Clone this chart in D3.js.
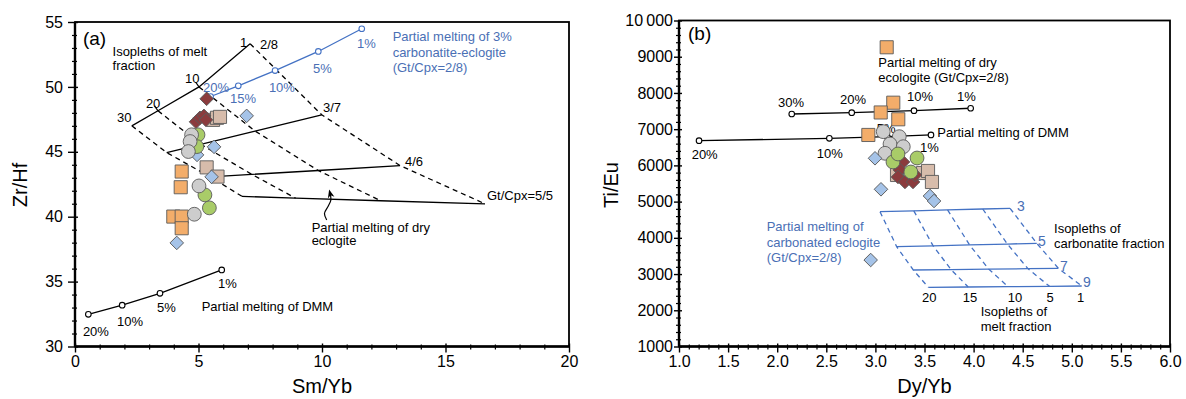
<!DOCTYPE html>
<html>
<head>
<meta charset="utf-8">
<script src="https://cdn.jsdelivr.net/npm/d3@7"></script>
<style>
  body { margin: 0; background: #fff; }
  svg text { font-family: "Liberation Sans", Arial, sans-serif; }
</style>
</head>
<body>
<svg id="chart" width="1186" height="399"></svg>
<script>
// ---------- panel (a): Zr/Hf vs Sm/Yb ----------
const aTicksX = [0, 5, 10, 15, 20];
const aTicksY = [30, 35, 40, 45, 50, 55];

const aOrangeX = [4.32, 4.28, 3.98, 4.32, 4.32];
const aOrangeY = [43.48, 42.27, 40.01, 40.01, 39.11];
const aTanX = [5.59, 5.75, 5.87, 5.33, 5.77];
const aTanY = [47.46, 47.62, 47.69, 43.80, 43.09];
const aBlueX = [6.95, 5.63, 4.94, 5.53, 4.12];
const aBlueY = [47.77, 45.38, 44.76, 43.07, 37.98];
const aRedX = [4.90, 5.06, 5.22, 5.30, 5.33];
const aRedY = [47.31, 47.62, 47.77, 47.46, 49.08];
const aGreenX = [4.98, 4.93, 5.26, 5.44];
const aGreenY = [46.31, 45.40, 41.68, 40.68];
const aGreyX = [4.72, 4.66, 4.59, 5.02, 4.83];
const aGreyY = [46.31, 45.79, 45.02, 42.37, 40.19];

// dry eclogite melting, rows = Gt/Cpx 2/8, 3/7, 4/6, 5/5 ; cols = F 30, 20, 10, 1 %
const eclRatio = ['2/8', '3/7', '4/6', '5/5'];
const eclF = [30, 20, 10, 1];
const eclSmYb = [
  [2.30, 3.36, 5.02, 7.09],
  [3.71, 5.09, 7.29, 9.99],
  [5.47, 7.16, 9.85, 13.16],
  [6.76, 8.93, 12.37, 16.60]
];
const eclZrHf = [
  [47.00, 48.16, 50.00, 53.32],
  [44.94, 45.58, 46.60, 47.85],
  [43.07, 43.26, 43.56, 43.94],
  [41.57, 41.43, 41.23, 40.99]
];

// 3% carbonatite-eclogite, F = 20, 15, 10, 5, 1 %
const carbLabels = ['20%', '15%', '10%', '5%', '1%'];
const carbSmYb = [5.49, 6.61, 8.10, 9.85, 11.61];
const carbZrHf = [49.26, 50.08, 51.26, 52.73, 54.48];

// DMM melting (a), F = 20, 10, 5, 1 %
const dmmLabelsA = ['20%', '10%', '5%', '1%'];
const dmmSmYb = [0.54, 1.91, 3.44, 5.94];
const dmmZrHf = [32.48, 33.18, 34.10, 35.90];

// ---------- panel (b): Ti/Eu vs Dy/Yb ----------
const bTicksX = [1.0, 1.5, 2.0, 2.5, 3.0, 3.5, 4.0, 4.5, 5.0, 5.5, 6.0];
const bTicksY = [1000, 2000, 3000, 4000, 5000, 6000, 7000, 8000, 9000, 10000];

const bTanX = [3.220, 3.485, 3.536, 3.576];
const bTanY = [5735, 5790, 5846, 5542];
const bRedX = [3.281, 3.250, 3.230, 3.301, 3.383, 3.403];
const bRedY = [6094, 5873, 5680, 5542, 5542, 5735];
const bGreyX = [3.080, 3.243, 3.149, 3.284, 3.098];
const bGreyY = [6931, 6793, 6591, 6516, 6334];
const bGreenX = [3.179, 3.230, 3.424, 3.361];
const bGreenY = [6094, 6315, 6204, 5818];
const bOrangeX = [3.115, 3.182, 3.054, 3.233, 2.928];
const bOrangeY = [9261, 7731, 7461, 7273, 6840];
const bBlueX = [2.996, 3.057, 3.556, 3.597, 2.952];
const bBlueY = [6196, 5340, 5155, 5017, 3388];

// dry eclogite (Gt/Cpx=2/8), F = 30, 20, 10, 1 %
const dryLabels = ['30%', '20%', '10%', '1%'];
const dryDyYb = [2.148, 2.759, 3.393, 3.970];
const dryTiEu = [7419, 7455, 7510, 7577];

// DMM melting (b), F = 20, 10, 5, 1 %
const dmmDyYb = [1.204, 2.531, 3.121, 3.566];
const dmmTiEu = [6682, 6748, 6793, 6840];

// carbonated eclogite grid: rows = carbonatite 3, 5, 7, 9 % ; cols = F 20, 15, 10, 5, 1 %
const gridCarb = ['3', '5', '7', '9'];
const gridF = ['20', '15', '10', '5', '1'];
const gridDyYb = [
  [3.047, 3.391, 3.735, 4.093, 4.371],
  [3.217, 3.588, 3.959, 4.344, 4.643],
  [3.386, 3.770, 4.154, 4.553, 4.863],
  [3.539, 3.945, 4.351, 4.773, 5.101]
];
const gridTiEu = [
  [4722, 4746, 4771, 4796, 4816],
  [3755, 3779, 3804, 3829, 3849],
  [3112, 3124, 3136, 3149, 3159],
  [2634, 2643, 2653, 2662, 2670]
];

const FONT = '"Liberation Sans", Arial, sans-serif';
const BLUE = '#4472c4';
const BLUE_TXT = '#4a6fb5';
const C = {
  orange: '#f3ad6a', tan: '#d7bcab', red: '#8b3b3d',
  grey: '#cdcdcd', green: '#a9cc68', blue: '#a5c3e8'
};

let svg = d3.select('#chart');

svg.append('defs').append('marker')
  .attr('id', 'arrow')
  .attr('viewBox', '0 0 10 10')
  .attr('refX', 5).attr('refY', 5)
  .attr('markerWidth', 7).attr('markerHeight', 7)
  .attr('orient', 'auto')
  .append('path')
  .attr('d', 'M0,1 L10,5 L0,9 L3,5 z')
  .attr('fill', '#000');

function axes(g, x, y, o) {
  let [x0, x1] = x.range();
  let [y0, y1] = y.range();

  g.append('rect')
    .attr('x', x0).attr('y', y1)
    .attr('width', x1 - x0).attr('height', y0 - y1)
    .attr('fill', 'none').attr('stroke', '#000').attr('stroke-width', 1.8);

  let bx = g.append('g')
    .attr('transform', `translate(0,${y0})`)
    .call(d3.axisBottom(x).tickValues(o.xMajor).tickSize(6).tickPadding(3).tickFormat(o.xFmt))
    .attr('font-size', 16).attr('font-family', FONT);
  bx.select('.domain').remove();
  bx.selectAll('line').attr('y1', -3).attr('stroke-width', 1.4);

  let bxm = g.append('g')
    .attr('transform', `translate(0,${y0})`)
    .call(d3.axisBottom(x).tickValues(o.xMinor).tickSize(3).tickFormat(''));
  bxm.select('.domain').remove();
  bxm.selectAll('line').attr('y1', -2).attr('stroke-width', 1.2);

  let ly = g.append('g')
    .attr('transform', `translate(${x0},0)`)
    .call(d3.axisLeft(y).tickValues(o.yMajor).tickSize(o.yTick).tickPadding(o.yPad).tickFormat(o.yFmt))
    .attr('font-size', 16).attr('font-family', FONT);
  ly.select('.domain').remove();
  ly.selectAll('line').attr('x1', 3).attr('stroke-width', 1.4);

  let lym = g.append('g')
    .attr('transform', `translate(${x0},0)`)
    .call(d3.axisLeft(y).tickValues(o.yMinor).tickSize(3).tickFormat(''));
  lym.select('.domain').remove();
  lym.selectAll('line').attr('x1', 2).attr('stroke-width', 1.2);

  // heavier left and bottom axis lines
  g.append('line').attr('x1', x0).attr('x2', x0).attr('y1', y0).attr('y2', y1)
    .attr('stroke', '#000').attr('stroke-width', 2.4);
  g.append('line').attr('x1', x0).attr('x2', x1).attr('y1', y0).attr('y2', y0)
    .attr('stroke', '#000').attr('stroke-width', 2.4);

  g.append('text')
    .attr('x', (x0 + x1) / 2).attr('y', 393)
    .attr('text-anchor', 'middle').attr('font-size', 20)
    .text(o.xTitle);
  g.append('text')
    .attr('transform', `translate(${o.yTitleX},185) rotate(-90)`)
    .attr('text-anchor', 'middle').attr('font-size', 20)
    .text(o.yTitle);
}

function txt(g, x, y, px, py, s, o = {}) {
  g.append('text')
    .attr('x', x(px)).attr('y', y(py))
    .attr('text-anchor', o.anchor || 'start')
    .attr('font-size', o.size || 13)
    .attr('fill', o.color || '#000')
    .text(s);
}

function marks(g, x, y, xs, ys, shape, fill) {
  let sym = d3.symbol()
    .type(shape === 'circle' ? d3.symbolCircle : d3.symbolSquare)
    .size(shape === 'circle' ? 150 : shape === 'square' ? 172 : 92);
  g.append('g').selectAll('path')
    .data(d3.zip(xs, ys))
    .join('path')
    .attr('d', sym)
    .attr('transform', (d) => `translate(${x(d[0])},${y(d[1])})` + (shape === 'diamond' ? ' rotate(45)' : ''))
    .attr('fill', fill)
    .attr('stroke', '#5a5a5a')
    .attr('stroke-width', 0.9);
}

function curve(g, x, y, xs, ys, color, dash, dots) {
  let pts = d3.zip(xs, ys);
  g.append('path')
    .attr('d', d3.line().x((d) => x(d[0])).y((d) => y(d[1]))(pts))
    .attr('fill', 'none')
    .attr('stroke', color)
    .attr('stroke-width', 1.3)
    .attr('stroke-dasharray', dash ? '5,4' : null);
  if (dots) {
    g.append('g').selectAll('circle')
      .data(pts)
      .join('circle')
      .attr('cx', (d) => x(d[0])).attr('cy', (d) => y(d[1]))
      .attr('r', 2.8)
      .attr('fill', '#fff').attr('stroke', color).attr('stroke-width', 1.1);
  }
}

// ================= panel (a) =================
let xA = d3.scaleLinear().domain([0, 20]).range([75, 569]);
let yA = d3.scaleLinear().domain([30, 55]).range([346.5, 22]);
let gA = svg.append('g');

axes(gA, xA, yA, {
  xMajor: aTicksX, xMinor: d3.range(1, 20).filter((v) => v % 5),
  yMajor: aTicksY, yMinor: d3.range(31, 55).filter((v) => v % 5),
  xFmt: (d) => d, yFmt: (d) => d, yTick: 7, yPad: 5,
  xTitle: 'Sm/Yb', yTitle: 'Zr/Hf', yTitleX: 27
});

// dry eclogite grid
eclRatio.forEach((r, i) => curve(gA, xA, yA, eclSmYb[i], eclZrHf[i], '#000', false, false));
eclF.forEach((f, j) => curve(gA, xA, yA, eclSmYb.map((row) => row[j]), eclZrHf.map((row) => row[j]), '#000', true, false));

// small ticks on the 2/8 curve at F = 20 and 10
[1, 2].forEach((j) => {
  let p0 = [xA(eclSmYb[0][0]), yA(eclZrHf[0][0])];
  let p1 = [xA(eclSmYb[0][3]), yA(eclZrHf[0][3])];
  let len = Math.hypot(p1[0] - p0[0], p1[1] - p0[1]);
  let nx = (p1[1] - p0[1]) / len, ny = -(p1[0] - p0[0]) / len;
  let px = xA(eclSmYb[0][j]), py = yA(eclZrHf[0][j]);
  gA.append('line')
    .attr('x1', px).attr('y1', py)
    .attr('x2', px + nx * 6).attr('y2', py + ny * 6)
    .attr('stroke', '#000').attr('stroke-width', 1.2);
});

txt(gA, xA, yA, 0.32, 53.25, '(a)', { size: 19 });
txt(gA, xA, yA, 1.52, 52.40, 'Isopleths of melt');
txt(gA, xA, yA, 1.52, 51.32, 'fraction');
txt(gA, xA, yA, 6.68, 53.09, '1');
txt(gA, xA, yA, 7.49, 52.94, '2/8');
txt(gA, xA, yA, 4.45, 50.32, '10');
txt(gA, xA, yA, 2.87, 48.39, '20');
txt(gA, xA, yA, 1.70, 47.31, '30');
txt(gA, xA, yA, 10.04, 48.08, '3/7');
txt(gA, xA, yA, 13.36, 43.92, '4/6');
txt(gA, xA, yA, 16.68, 41.30, 'Gt/Cpx=5/5');
txt(gA, xA, yA, 9.58, 38.83, 'Partial melting of dry');
txt(gA, xA, yA, 9.58, 37.83, 'eclogite');

gA.append('path')
  .attr('d', d3.line().x((d) => xA(d[0])).y((d) => yA(d[1])).curve(d3.curveCatmullRom)(
    [[10.19, 39.75], [10.10, 40.25], [10.25, 40.80], [10.36, 41.30], [10.33, 41.78]]))
  .attr('fill', 'none').attr('stroke', '#000').attr('stroke-width', 1.2)
  .attr('marker-end', 'url(#arrow)');

// carbonatite-eclogite curve
curve(gA, xA, yA, carbSmYb, carbZrHf, BLUE, false, true);
[[5.18, 49.62], [6.28, 48.77], [7.85, 49.62], [9.64, 51.09], [11.42, 53.02]].forEach((p, i) =>
  txt(gA, xA, yA, p[0], p[1], carbLabels[i], { color: BLUE_TXT }));
txt(gA, xA, yA, 12.86, 53.55, 'Partial melting of 3%', { color: BLUE_TXT });
txt(gA, xA, yA, 12.86, 52.32, 'carbonatite-eclogite', { color: BLUE_TXT });
txt(gA, xA, yA, 12.86, 51.16, '(Gt/Cpx=2/8)', { color: BLUE_TXT });

// DMM curve
curve(gA, xA, yA, dmmSmYb, dmmZrHf, '#000', false, true);
[[0.32, 30.81], [1.70, 31.58], [3.32, 32.66], [5.79, 34.51]].forEach((p, i) =>
  txt(gA, xA, yA, p[0], p[1], dmmLabelsA[i]));
txt(gA, xA, yA, 5.13, 32.74, 'Partial melting of DMM');

marks(gA, xA, yA, aOrangeX, aOrangeY, 'square', C.orange);
marks(gA, xA, yA, aTanX, aTanY, 'square', C.tan);
marks(gA, xA, yA, aBlueX, aBlueY, 'diamond', C.blue);
marks(gA, xA, yA, aRedX, aRedY, 'diamond', C.red);
marks(gA, xA, yA, aGreenX, aGreenY, 'circle', C.green);
marks(gA, xA, yA, aGreyX, aGreyY, 'circle', C.grey);

// ================= panel (b) =================
let xB = d3.scaleLinear().domain([1, 6]).range([679, 1170]);
let yB = d3.scaleLinear().domain([1000, 10000]).range([346.5, 20.5]);
let gB = svg.append('g');

axes(gB, xB, yB, {
  xMajor: bTicksX, xMinor: d3.range(11, 60).filter((v) => v % 5).map((v) => v / 10),
  yMajor: bTicksY, yMinor: d3.range(1200, 10000, 200).filter((v) => v % 1000),
  xFmt: d3.format('.1f'), yFmt: (d) => (d === 10000 ? '10\u2009000' : d), yTick: 5, yPad: 1,
  xTitle: 'Dy/Yb', yTitle: 'Ti/Eu', yTitleX: 618
});

txt(gB, xB, yB, 1.092, 9463, '(b)', { size: 19 });

// dry eclogite line
curve(gB, xB, yB, dryDyYb, dryTiEu, '#000', false, true);
[[2.008, 7613], [2.640, 7695], [3.322, 7778], [3.831, 7778]].forEach((p, i) =>
  txt(gB, xB, yB, p[0], p[1], dryLabels[i]));
txt(gB, xB, yB, 3.030, 8717, 'Partial melting of dry');
txt(gB, xB, yB, 3.030, 8303, 'ecologite (Gt/Cpx=2/8)');

// DMM line
curve(gB, xB, yB, dmmDyYb, dmmTiEu, '#000', false, true);
[[1.129, 6177], [2.402, 6204], [3.013, 6894], [3.454, 6370]].forEach((p, i) =>
  txt(gB, xB, yB, p[0], p[1], dmmLabelsA[i]));
txt(gB, xB, yB, 3.630, 6782, 'Partial melting of DMM');

// carbonated eclogite grid
gridCarb.forEach((c, i) => curve(gB, xB, yB, gridDyYb[i], gridTiEu[i], BLUE, false, false));
gridF.forEach((f, j) => curve(gB, xB, yB, gridDyYb.map((r) => r[j]), gridTiEu.map((r) => r[j]), BLUE, true, false));
[[4.442, 4741], [4.656, 3775], [4.880, 3085], [5.114, 2643]].forEach((p, i) =>
  txt(gB, xB, yB, p[0], p[1], gridCarb[i], { color: BLUE_TXT, size: 14 }));
[3.549, 3.963, 4.422, 4.778, 5.091].forEach((v, j) =>
  txt(gB, xB, yB, v, 2237, gridF[j], { anchor: 'middle' }));

txt(gB, xB, yB, 4.819, 4134, 'Isopleths of');
txt(gB, xB, yB, 4.819, 3720, 'carbonatite fraction');
txt(gB, xB, yB, 4.072, 1842, 'Isopleths of');
txt(gB, xB, yB, 4.072, 1428, 'melt fraction');
txt(gB, xB, yB, 1.893, 4189, 'Partial melting of', { color: BLUE_TXT });
txt(gB, xB, yB, 1.893, 3747, 'carbonated eclogite', { color: BLUE_TXT });
txt(gB, xB, yB, 1.893, 3333, '(Gt/Cpx=2/8)', { color: BLUE_TXT });

marks(gB, xB, yB, bTanX, bTanY, 'square', C.tan);
marks(gB, xB, yB, bRedX, bRedY, 'diamond', C.red);
marks(gB, xB, yB, bGreyX, bGreyY, 'circle', C.grey);
marks(gB, xB, yB, bGreenX, bGreenY, 'circle', C.green);
marks(gB, xB, yB, bOrangeX, bOrangeY, 'square', C.orange);
marks(gB, xB, yB, bBlueX, bBlueY, 'diamond', C.blue);
</script>
</body>
</html>
